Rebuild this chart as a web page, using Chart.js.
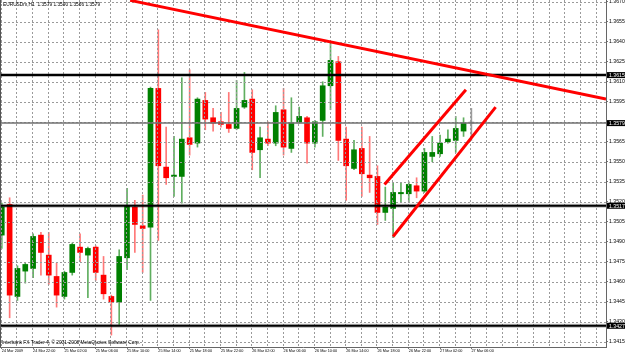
<!DOCTYPE html>
<html>
<head>
<meta charset="utf-8">
<script src="https://cdn.jsdelivr.net/npm/chart.js@4.4.0/dist/chart.umd.min.js"></script>
<style>
  html, body { margin: 0; padding: 0; background: #fff; }
  #wrap { width: 625px; height: 355px; position: relative; }
</style>
</head>
<body>
<div id="wrap"><canvas id="priceChart"></canvas></div>
<script>
// EURUSD H1 bars, one per hour starting 24 Mar 2009 18:00
const opens = [
  1.3495, 1.3518, 1.3449, 1.3468, 1.3470, 1.3495, 1.3480, 1.3464, 1.3449, 1.3467,
  1.3486, 1.3480, 1.3486, 1.3465, 1.3449, 1.3445, 1.3478, 1.3516, 1.3502, 1.3501,
  1.3605, 1.3546, 1.3539, 1.3539, 1.3568, 1.3564, 1.3596, 1.3583, 1.3580, 1.3578,
  1.3575, 1.3591, 1.3597, 1.3559, 1.3567, 1.3564, 1.3589, 1.3560, 1.3580, 1.3583,
  1.3564, 1.3581, 1.3607, 1.3625, 1.3567, 1.3545, 1.3560, 1.3540, 1.3539, 1.3512,
  1.3515, 1.3526, 1.3526, 1.3532, 1.3528, 1.3554, 1.3556, 1.3565, 1.3566, 1.3573,
  1.3579
];
const highs = [
  1.3519, 1.3523, 1.3472, 1.3474, 1.3496, 1.3497, 1.3497, 1.3474, 1.3468, 1.3489,
  1.3496, 1.3486, 1.3487, 1.3479, 1.3450, 1.3484, 1.3530, 1.3521, 1.3525, 1.3606,
  1.3649, 1.3576, 1.3569, 1.3613, 1.3619, 1.3598, 1.3602, 1.3590, 1.3587, 1.3602,
  1.3611, 1.3617, 1.3604, 1.3576, 1.3580, 1.3592, 1.3605, 1.3598, 1.3591, 1.3584,
  1.3581, 1.3610, 1.3640, 1.3629, 1.3576, 1.3566, 1.3576, 1.3569, 1.3547, 1.3531,
  1.3534, 1.3534, 1.3535, 1.3538, 1.3560, 1.3569, 1.3570, 1.3574, 1.3584, 1.3583,
  1.3590
];
const lows = [
  1.3485, 1.3433, 1.3446, 1.3459, 1.3463, 1.3465, 1.3458, 1.3441, 1.3447, 1.3465,
  1.3475, 1.3448, 1.3461, 1.3447, 1.3420, 1.3428, 1.3469, 1.3482, 1.3467, 1.3446,
  1.3491, 1.3533, 1.3524, 1.3519, 1.3555, 1.3561, 1.3574, 1.3573, 1.3576, 1.3572,
  1.3574, 1.3590, 1.3544, 1.3538, 1.3562, 1.3562, 1.3555, 1.3557, 1.3579, 1.3549,
  1.3561, 1.3569, 1.3589, 1.3551, 1.3521, 1.3544, 1.3524, 1.3527, 1.3503, 1.3506,
  1.3493, 1.3520, 1.3520, 1.3523, 1.3527, 1.3550, 1.3554, 1.3564, 1.3557, 1.3569,
  1.3566
];
const closes = [
  1.3516, 1.3450, 1.3470, 1.3473, 1.3494, 1.3482, 1.3465, 1.3450, 1.3467, 1.3488,
  1.3482, 1.3485, 1.3467, 1.3451, 1.3445, 1.3479, 1.3517, 1.3503, 1.3500, 1.3605,
  1.3547, 1.3538, 1.3540, 1.3567, 1.3563, 1.3597, 1.3582, 1.3579, 1.3578, 1.3575,
  1.3590, 1.3596, 1.3557, 1.3568, 1.3564, 1.3587, 1.3561, 1.3579, 1.3584, 1.3564,
  1.3580, 1.3607, 1.3626, 1.3566, 1.3547, 1.3559, 1.3541, 1.3538, 1.3512, 1.3516,
  1.3527, 1.3527, 1.3533, 1.3528, 1.3557, 1.3557, 1.3564, 1.3567, 1.3575, 1.3579,
  1.3579
];

// time axis labels, one every 4 bars
const timeLabels = [
  "24 Mar 2009", "24 Mar 22:00", "25 Mar 02:00", "25 Mar 06:00", "25 Mar 10:00",
  "25 Mar 14:00", "25 Mar 18:00", "25 Mar 22:00", "26 Mar 02:00", "26 Mar 06:00",
  "26 Mar 10:00", "26 Mar 14:00", "26 Mar 18:00", "26 Mar 22:00", "27 Mar 02:00",
  "27 Mar 06:00"
];
const labelStep = 4;
const gridStep = 2;

// price grid, every 15 pips
const priceTicks = [
  1.3415, 1.3430, 1.3445, 1.3460, 1.3475, 1.3490, 1.3505, 1.3520, 1.3535,
  1.3550, 1.3565, 1.3580, 1.3595, 1.3610, 1.3625, 1.3640, 1.3655, 1.3670
];
const hiddenPriceTicks = [1.3580];

// horizontal levels and bid line
const levelLines = [1.3615, 1.3517, 1.3427];
const bidPrice = 1.3579;

// hand drawn trend lines (bar index, price)
const resistanceLine = [{ x: 16.4, y: 1.3671 }, { x: 77.2, y: 1.3597 }];
const channelTop = [{ x: 48.9, y: 1.3533 }, { x: 59.3, y: 1.3604 }];
const channelBottom = [{ x: 50.0, y: 1.3494 }, { x: 63.1, y: 1.3591 }];

const chartTitle = "EURUSDm,H1  1.3579 1.3590 1.3566 1.3579";
const copyright = "Interbank FX Trader 4, \u00a9 2001-2008 MetaQuotes Software Corp.";

const FONT = "'Liberation Sans', Arial, sans-serif";

function bodyColor(i) {
  if (closes[i] > opens[i]) return "#008000";
  if (closes[i] < opens[i]) return "#ff0000";
  return "#8c8c8c";
}
function wickColor(i) {
  if (closes[i] > opens[i]) return "#5fae5f";
  if (closes[i] < opens[i]) return "#ff7878";
  return "#9a9a9a";
}

function fmt(v) {
  return v.toFixed(4);
}

// grid on top of the bodies, then level lines; texts and price boxes at the end
const mtOverlay = {
  id: "mtOverlay",
  afterDatasetDraw(chart, args) {
    if (args.index !== 1) return;
    const { ctx, chartArea: a, scales: { x, y } } = chart;
    ctx.save();
    ctx.beginPath();
    ctx.rect(a.left, a.top, a.width, a.height);
    ctx.clip();

    ctx.strokeStyle = "#9a9a9a";
    ctx.lineWidth = 1;
    ctx.setLineDash([2, 2]);
    for (let k = 0; k <= x.max; k += gridStep) {
      const px = Math.round(x.getPixelForValue(k)) - 0.5;
      ctx.beginPath();
      ctx.moveTo(px, a.top);
      ctx.lineTo(px, a.bottom);
      ctx.stroke();
    }
    priceTicks.forEach(function (v) {
      const py = Math.round(y.getPixelForValue(v)) + 0.5;
      ctx.beginPath();
      ctx.moveTo(a.left, py);
      ctx.lineTo(a.right, py);
      ctx.stroke();
    });
    ctx.setLineDash([]);

    // bid line
    ctx.strokeStyle = "#707070";
    ctx.lineWidth = 1.5;
    let py = y.getPixelForValue(bidPrice);
    ctx.beginPath();
    ctx.moveTo(a.left, py);
    ctx.lineTo(a.right, py);
    ctx.stroke();

    // horizontal levels
    levelLines.forEach(function (v) {
      const ly = y.getPixelForValue(v);
      ctx.strokeStyle = "rgba(0,0,0,0.25)";
      ctx.lineWidth = 4;
      ctx.beginPath();
      ctx.moveTo(a.left, ly);
      ctx.lineTo(a.right, ly);
      ctx.stroke();
      ctx.strokeStyle = "#000";
      ctx.lineWidth = 2;
      ctx.beginPath();
      ctx.moveTo(a.left, ly);
      ctx.lineTo(a.right, ly);
      ctx.stroke();
    });
    ctx.restore();
  },
  afterDraw(chart) {
    const { ctx, chartArea: a, scales: { y } } = chart;
    ctx.save();
    // left frame
    ctx.strokeStyle = "#555";
    ctx.lineWidth = 1;
    ctx.beginPath();
    ctx.moveTo(a.left + 0.5, a.top);
    ctx.lineTo(a.left + 0.5, a.bottom);
    ctx.stroke();

    ctx.fillStyle = "#000";
    ctx.textBaseline = "middle";
    ctx.textAlign = "left";
    ctx.font = "4.8px " + FONT;
    ctx.fillText(chartTitle, a.left + 3, a.top + 5);
    ctx.fillText(copyright, a.left + 2, a.bottom - 4);

    // black price boxes
    ctx.font = "5.2px " + FONT;
    levelLines.concat([bidPrice]).forEach(function (v) {
      const py = y.getPixelForValue(v);
      ctx.fillStyle = "#000";
      ctx.fillRect(a.right + 1, py - 3, chart.width - a.right - 1, 6);
      ctx.fillStyle = "#fff";
      ctx.fillText(fmt(v), a.right + 3, py + 0.3);
    });
    ctx.restore();
  }
};

function initPriceChart() {
  const ctx = document.getElementById("priceChart");
  if (!ctx) return;

  const bodies = opens.map(function (o, i) { return { x: i, y: [o, closes[i]] }; });
  const wicks = lows.map(function (l, i) { return { x: i, y: [l, highs[i]] }; });

  new Chart(ctx, {
    type: "bar",
    data: {
      datasets: [
        {
          label: "wicks",
          data: wicks,
          backgroundColor: wicks.map(function (_, i) { return wickColor(i); }),
          barThickness: 1,
          grouped: false,
          borderWidth: 0,
          order: 4,
        },
        {
          label: "bodies",
          data: bodies,
          backgroundColor: bodies.map(function (_, i) { return bodyColor(i); }),
          barThickness: 5,
          minBarLength: 1,
          grouped: false,
          borderWidth: 0,
          order: 3,
        },
        {
          type: "line",
          label: "resistance",
          data: resistanceLine,
          borderColor: "#ff0000",
          borderWidth: 3,
          pointRadius: 0,
          fill: false,
          order: 1,
        },
        {
          type: "line",
          label: "channel top",
          data: channelTop,
          borderColor: "#ff0000",
          borderWidth: 3,
          pointRadius: 0,
          fill: false,
          order: 1,
        },
        {
          type: "line",
          label: "channel bottom",
          data: channelBottom,
          borderColor: "#ff0000",
          borderWidth: 3,
          pointRadius: 0,
          fill: false,
          order: 1,
        },
      ],
    },
    options: {
      responsive: true,
      maintainAspectRatio: false,
      animation: false,
      events: [],
      layout: { padding: 0 },
      plugins: {
        legend: { display: false },
        tooltip: { enabled: false },
      },
      scales: {
        x: {
          type: "linear",
          min: -0.23,
          max: 77.2,
          offset: false,
          afterBuildTicks: function (scale) {
            scale.ticks = timeLabels.map(function (_, i) { return { value: i * labelStep }; });
          },
          afterFit: function (scale) {
            scale.height = 8;
            scale.paddingLeft = 0;
            scale.paddingRight = 0;
          },
          grid: { display: true, drawOnChartArea: false, offset: false, tickLength: 2, color: "#777" },
          border: { display: true, color: "#666" },
          ticks: {
            autoSkip: false,
            maxRotation: 0,
            align: "start",
            padding: 0,
            color: "#000",
            font: { size: 3.8, family: FONT },
            callback: function (value, index) {
              return timeLabels[index] || "";
            },
          },
        },
        y: {
          type: "linear",
          position: "right",
          min: 1.34111,
          max: 1.36713,
          afterBuildTicks: function (scale) {
            scale.ticks = priceTicks.map(function (v) { return { value: v }; });
          },
          afterFit: function (scale) {
            scale.width = 19;
            scale.paddingTop = 0;
            scale.paddingBottom = 0;
          },
          grid: { display: true, drawOnChartArea: false, tickLength: 2, color: "#777" },
          border: { display: true, color: "#666" },
          ticks: {
            padding: 1,
            color: "#000",
            font: { size: 5.2, family: FONT },
            callback: function (value) {
              if (hiddenPriceTicks.indexOf(value) !== -1) return "";
              return fmt(value);
            },
          },
        },
      },
    },
    plugins: [mtOverlay],
  });
}

document.addEventListener("DOMContentLoaded", initPriceChart);
</script>
</body>
</html>
